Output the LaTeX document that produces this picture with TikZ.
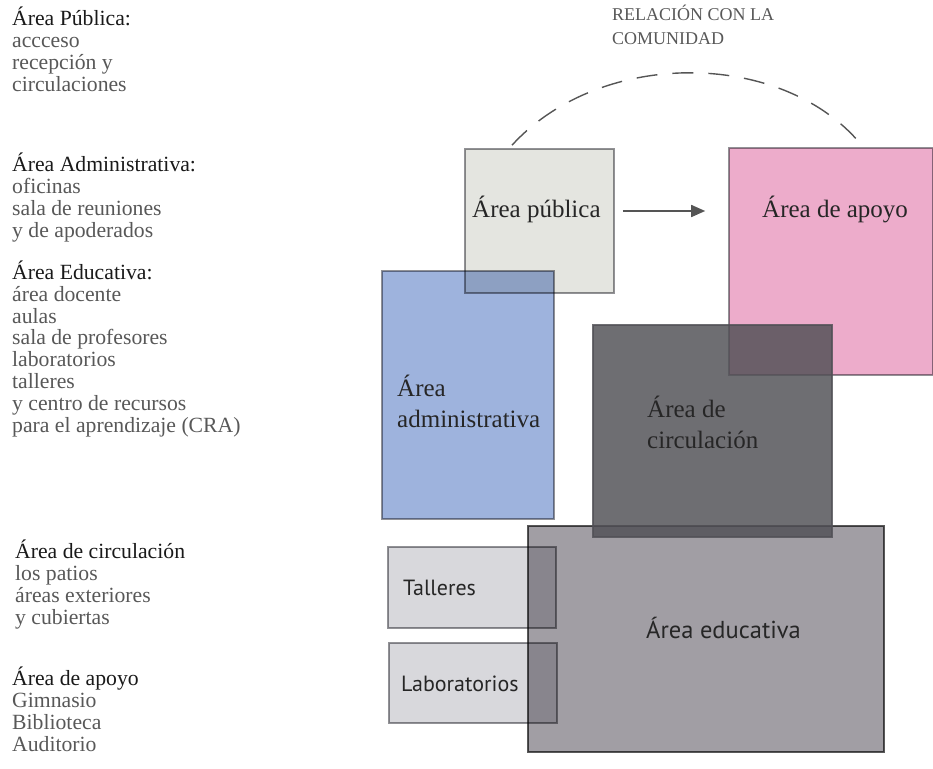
\documentclass[tikz,border=0pt]{standalone}
\usepackage{fontspec}
\setmainfont{Liberation Serif}
\newfontfamily\sansmyr{PT Sans}
\usetikzlibrary{arrows.meta}
\definecolor{publicaC}{HTML}{E4E5E0}
\definecolor{adminC}{HTML}{9EB3DD}
\definecolor{apoyoC}{HTML}{EDACCB}
\definecolor{circC}{HTML}{515056}
\definecolor{eduC}{HTML}{A19EA4}
\definecolor{tallerC}{HTML}{D8D8DC}
\definecolor{bordeC}{HTML}{929296}
\definecolor{textoC}{HTML}{585858}
\definecolor{lineaC}{HTML}{555555}
\newcommand{\titulo}[1]{\textcolor{black!90}{#1}}
\begin{document}
\begin{tikzpicture}[x=1pt,y=-1pt,
  zona/.style={draw=#1,line width=1.6pt,inner sep=0pt},
  mezcla/.style={blend mode=multiply},
  bloque/.style={align=left,inner sep=0pt,anchor=base west,text=textoC,
    font=\fontsize{21.7}{21.8}\selectfont},
  rotulo/.style={align=left,inner sep=0pt,anchor=base west,text=black!85,
    font=\fontsize{25}{31}\selectfont},
  rotulosans/.style={inner sep=0pt,anchor=base west,text=black!85,
    font=\sansmyr\fontsize{22}{25}\selectfont}]
\useasboundingbox (0,0) rectangle (933,768);
\begin{scope}[mezcla]
\node[zona=bordeC,fill=publicaC,minimum width=149pt,minimum height=144pt] (publica) at (539.5,221) {};
\node[zona=bordeC,fill=adminC,minimum width=172pt,minimum height=248pt] (admin) at (468,395) {};
\node[zona=bordeC,fill=apoyoC,minimum width=204pt,minimum height=227pt] (apoyo) at (831,261.5) {};
\node[zona=black!65,fill=eduC,minimum width=356pt,minimum height=226pt] (edu) at (706,639) {};
\end{scope}
\node[zona=circC,fill=circC,opacity=0.83,minimum width=239pt,minimum height=212pt] (circ) at (712.5,431) {};
\begin{scope}[mezcla]
\node[zona=bordeC,fill=tallerC,minimum width=168pt,minimum height=81pt] (talleres) at (472,587.5) {};
\node[zona=bordeC,fill=tallerC,minimum width=168pt,minimum height=80pt] (labs) at (473,683) {};
\end{scope}

\node[rotulo] (tpublica) at (472,217) {Área pública};
\node[rotulo] (tapoyo) at (762,217) {Área de apoyo};
\node[rotulo] (tadmin) at (397,427) {Área\\administrativa};
\node[rotulo] (tcirc) at (647,448) {Área de\\circulación};
\node[rotulosans,font=\sansmyr\fontsize{24.5}{25}\selectfont] (tedu) at (646,638) {Área educativa};
\node[rotulosans] (ttalleres) at (403,595) {Talleres};
\node[rotulosans] (tlabs) at (401,691) {Laboratorios};

\draw[lineaC,line width=1.6pt,-{Triangle[length=14pt,width=12pt]}]
  ([xshift=8pt,yshift=10pt]publica.east) -- ([xshift=-23pt,yshift=10pt]publica.east -| apoyo.west);
\draw[lineaC,line width=1.4pt,dash pattern=on 21pt off 15pt]
  ([xshift=-27.5pt,yshift=3pt]publica.north) .. controls (600,49) and (780,49) .. ([xshift=29pt,yshift=4pt]apoyo.north);
\node[inner sep=0pt,anchor=base west,text=textoC,align=left,font=\fontsize{18}{24.5}\selectfont]
  (comunidad) at (612,45) {RELACIÓN CON LA\\COMUNIDAD};

\node[bloque] (bpublica) at (12,91) {\titulo{Área Pública:}\\accceso\\recepción y\\circulaciones};
\node[bloque] (badmin) at (12,237) {\titulo{Área Administrativa:}\\oficinas\\sala de reuniones\\y de apoderados};
\node[bloque] (bedu) at (12,432) {\titulo{Área Educativa:}\\área docente\\aulas\\sala de profesores\\laboratorios\\talleres\\y centro de recursos\\para el aprendizaje (CRA)};
\node[bloque] (bcirc) at (15,624) {\titulo{Área de circulación}\\los patios\\áreas exteriores\\y cubiertas};
\node[bloque] (bapoyo) at (12,751) {\titulo{Área de apoyo}\\Gimnasio\\Biblioteca\\Auditorio};
\end{tikzpicture}
\end{document}
